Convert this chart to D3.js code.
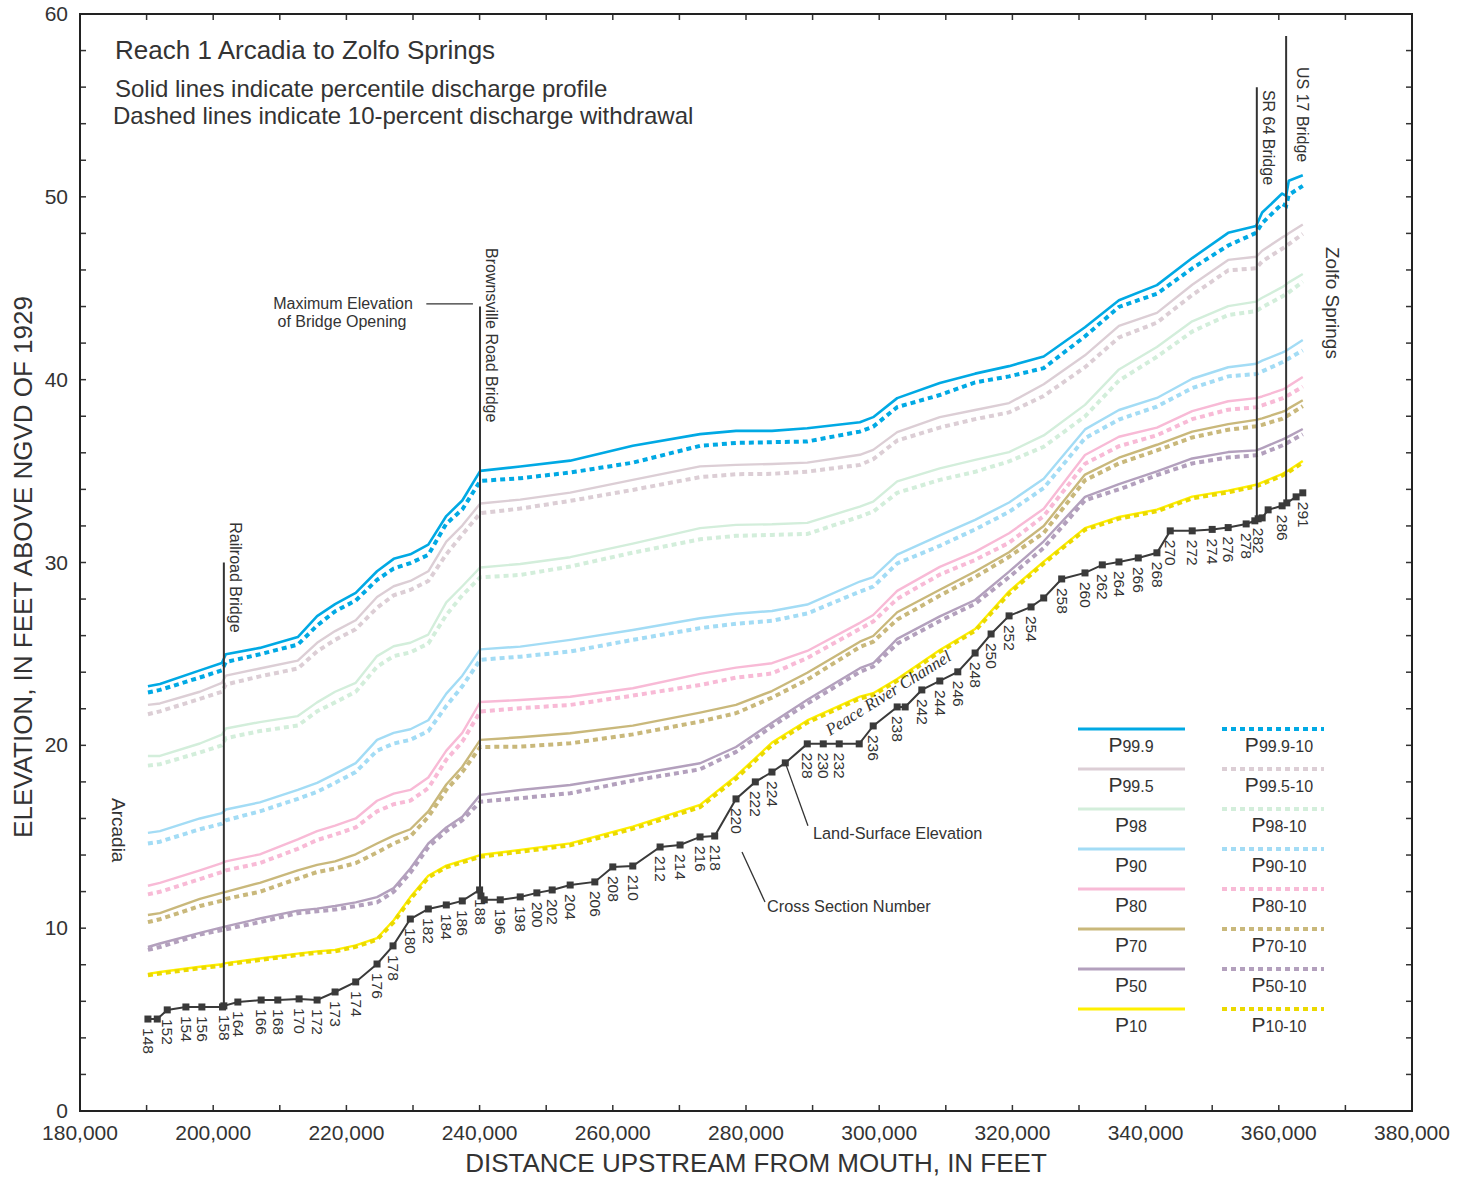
<!DOCTYPE html>
<html><head><meta charset="utf-8">
<script src="https://cdn.jsdelivr.net/npm/d3@7"></script>
<style>
body{margin:0;background:#fff}
svg{display:block}
text{font-family:"Liberation Sans",Arial,sans-serif;fill:#333}
</style>
</head><body>
<svg id="chart" width="1459" height="1178"></svg>
<script>
// ---------- DATA ----------
const lineDist = [190200,192000,198000,201300,201900,207000,212700,215600,218300,221400,224600,227100,229600,232300,235000,237400,240100,246100,253600,263000,273100,278500,283900,289200,297100,299100,302700,309100,314400,319500,324700,330900,336000,341700,347000,352400,356600,357500,360500,361100,361500,363600];

const p999  = [23.23,23.36,24.10,24.50,24.98,25.33,25.92,27.07,27.72,28.34,29.52,30.20,30.45,30.98,32.54,33.39,35.01,35.25,35.57,36.39,37.02,37.20,37.20,37.34,37.67,37.95,38.99,39.82,40.33,40.74,41.27,42.87,44.34,45.17,46.65,48.03,48.41,49.14,50.18,50.05,50.88,51.18];
const p999w = [22.89,23.03,23.71,24.10,24.56,24.98,25.51,26.55,27.33,27.92,29.05,29.67,29.97,30.42,32.12,32.90,34.46,34.61,34.92,35.46,36.38,36.54,36.58,36.62,37.16,37.43,38.50,39.16,39.85,40.18,40.63,42.37,43.98,44.70,46.09,47.34,48.03,48.56,49.62,49.51,50.11,50.60];
const p995  = [22.21,22.29,22.93,23.42,23.81,24.20,24.63,25.61,26.25,26.84,28.11,28.70,28.99,29.52,31.14,32.02,33.23,33.44,33.82,34.52,35.26,35.34,35.39,35.46,35.89,36.16,37.13,37.95,38.34,38.72,39.75,41.33,42.94,43.65,45.19,46.55,46.72,47.05,47.78,47.90,48.01,48.49];
const p995w = [21.70,21.86,22.54,22.93,23.33,23.77,24.20,25.14,25.77,26.35,27.52,28.21,28.50,28.99,30.45,31.53,32.70,32.95,33.37,33.97,34.67,34.83,34.85,34.97,35.34,35.65,36.67,37.38,37.84,38.21,39.11,40.68,42.31,43.12,44.63,45.98,46.09,46.47,47.16,47.30,47.41,47.97];
const p98   = [19.42,19.42,20.10,20.59,20.92,21.27,21.60,22.35,22.93,23.42,24.88,25.42,25.61,26.06,27.82,28.70,29.73,29.92,30.29,31.03,31.88,32.06,32.09,32.17,33.06,33.33,34.44,35.15,35.61,36.04,36.95,38.62,40.56,41.79,43.19,44.02,44.27,44.48,45.06,45.21,45.32,45.78];
const p98w  = [18.89,18.97,19.61,20.00,20.39,20.78,21.08,21.86,22.35,22.93,24.30,24.88,25.08,25.57,27.13,28.21,29.19,29.32,29.78,30.54,31.27,31.46,31.51,31.56,32.51,32.78,33.81,34.52,34.96,35.53,36.33,37.99,39.95,41.25,42.63,43.54,43.75,43.96,44.55,44.69,44.78,45.36];
const p90   = [15.21,15.31,16.00,16.29,16.49,16.88,17.56,17.95,18.44,19.03,20.30,20.68,20.88,21.37,22.83,23.81,25.25,25.40,25.77,26.31,26.95,27.20,27.35,27.70,28.96,29.20,30.43,31.48,32.33,33.28,34.58,37.28,38.34,39.00,40.05,40.68,40.87,41.04,41.48,41.58,41.68,42.17];
const p90w  = [14.63,14.73,15.41,15.71,15.90,16.39,17.07,17.46,17.95,18.54,19.71,20.10,20.30,20.78,22.15,23.23,24.68,24.85,25.13,25.77,26.41,26.65,26.81,27.21,28.41,28.68,29.95,30.91,31.81,32.77,34.07,36.80,37.82,38.53,39.54,40.18,40.31,40.45,40.95,41.06,41.16,41.60];
const p80   = [12.32,12.48,13.16,13.56,13.65,14.04,14.86,15.31,15.61,16.00,16.97,17.36,17.56,18.24,19.71,20.68,22.37,22.48,22.66,23.12,23.91,24.25,24.49,25.16,26.70,27.13,28.45,29.76,30.58,31.60,32.94,35.88,36.88,37.38,38.28,38.82,38.99,39.08,39.45,39.56,39.66,40.14];
const p80w  = [11.85,11.99,12.68,13.07,13.16,13.56,14.34,14.82,15.12,15.51,16.39,16.78,16.97,17.66,19.22,20.20,21.85,22.03,22.21,22.72,23.30,23.70,23.93,24.78,26.37,26.77,28.01,29.34,30.14,31.08,32.54,35.40,36.36,36.96,37.84,38.36,38.49,38.59,38.97,39.08,39.16,39.62];
const p70   = [10.72,10.82,11.60,11.93,11.99,12.48,13.16,13.46,13.65,14.04,14.63,15.06,15.41,16.39,17.86,18.83,20.30,20.44,20.66,21.08,21.79,22.21,22.97,23.97,25.67,25.98,27.28,28.51,29.51,30.56,32.00,34.81,35.73,36.44,37.16,37.57,37.80,37.88,38.24,38.32,38.43,38.87];
const p70w  = [10.33,10.49,11.21,11.50,11.60,11.99,12.71,13.07,13.26,13.56,14.14,14.63,15.02,16.09,17.56,18.54,19.91,19.93,20.11,20.60,21.30,21.76,22.61,23.59,25.38,25.67,26.88,28.19,29.20,30.31,31.62,34.50,35.42,36.13,36.84,37.26,37.45,37.53,37.86,37.97,38.07,38.55];
const p50   = [8.97,9.16,9.74,10.04,10.10,10.53,10.96,11.07,11.21,11.41,11.70,12.19,13.26,14.63,15.51,16.09,17.29,17.56,17.83,18.38,19.02,19.91,21.24,22.49,24.22,24.49,25.82,27.05,27.95,29.50,31.16,33.59,34.29,34.98,35.69,36.04,36.13,36.26,36.72,36.82,36.90,37.30];
const p50w  = [8.81,8.97,9.65,9.90,9.94,10.33,10.82,10.92,11.02,11.21,11.41,11.99,13.03,14.44,15.31,15.90,16.92,17.11,17.38,18.07,18.69,19.64,21.04,22.28,24.02,24.31,25.56,26.80,27.74,29.20,30.80,33.40,34.00,34.78,35.42,35.75,35.86,35.96,36.40,36.50,36.59,37.01];
const p10   = [7.50,7.60,7.89,8.03,8.09,8.34,8.61,8.73,8.81,9.06,9.45,10.43,11.70,12.87,13.42,13.69,14.00,14.28,14.64,15.55,16.74,18.31,20.15,21.36,22.66,22.85,23.63,25.21,26.36,28.42,30.05,31.88,32.49,32.89,33.60,33.93,34.25,34.38,34.84,34.96,35.04,35.55];
const p10w  = [7.42,7.52,7.81,7.95,8.01,8.26,8.53,8.65,8.73,8.98,9.37,10.33,11.58,12.77,13.33,13.60,13.90,14.18,14.53,15.43,16.62,18.18,20.02,21.24,22.56,22.75,23.53,25.11,26.26,28.30,29.95,31.79,32.40,32.80,33.51,33.84,34.16,34.29,34.75,34.87,34.95,35.46];

const seriesNames = ["99.9","99.5","98","90","80","70","50","10"];
const seriesSolid = [p999,p995,p98,p90,p80,p70,p50,p10];
const seriesWithdraw = [p999w,p995w,p98w,p90w,p80w,p70w,p50w,p10w];

// Land-surface elevation at cross sections
const landDist = [190200,191600,193100,195900,198300,201400,201600,203700,207200,209700,212900,215600,218300,221400,224600,227000,229600,232300,235000,237400,240000,240200,240700,243100,246100,248600,250900,253600,257300,260000,263000,267100,270100,273100,275300,278500,281400,283900,285900,289200,291600,294000,297000,299100,302700,303900,306400,309100,311800,314400,316800,319500,322800,324700,327400,330900,333500,336000,338900,341700,343700,347000,350000,352400,355100,356400,356900,357500,358400,360500,361200,362600,363600];
const landElev = [5.03,5.03,5.53,5.69,5.69,5.69,5.75,5.96,6.07,6.07,6.13,6.07,6.51,7.06,8.04,9.03,10.50,11.05,11.27,11.49,12.09,11.76,11.55,11.55,11.71,11.93,12.09,12.36,12.53,13.35,13.40,14.44,14.55,14.99,15.04,17.07,18.00,18.54,19.04,20.08,20.08,20.08,20.08,21.06,22.10,22.10,23.03,23.52,24.02,25.05,26.09,27.08,27.57,28.06,29.10,29.43,29.87,30.03,30.25,30.53,31.73,31.73,31.81,31.91,32.11,32.28,32.39,32.44,32.88,33.10,33.26,33.59,33.81];
const xsLabels = ["148","","152","154","156","","158","164","166","168","170","172","173","174","176","178","180","182","184","186","188","","","196","198","200","202","204","206","208","210","212","214","216","218","220","222","224","","228","230","232","","236","238","","242","244","246","248","250","252","254","","258","260","262","264","266","268","270","272","274","276","278","","282","","","286","","","291"];

// Bridges
const bridgeNames  = ["Railroad Bridge","Brownsville Road Bridge","SR 64 Bridge","US 17 Bridge"];
const bridgeDist   = [201600,240060,356700,361100];
const bridgeTop    = [30.0,44.0,56.0,58.8];
const bridgeBottom = [5.7,12.1,32.3,33.2];
const bridgeLabelTop = [32.2,47.2,55.85,57.1];

const xTickValues = [180000,200000,220000,240000,260000,280000,300000,320000,340000,360000,380000];
const yTickValues = [0,10,20,30,40,50,60];

// ---------- STYLE ----------
const colors = ["#00a9e4","#dcced5","#d3eedb","#a3dcf5","#f8bad6","#c9b87b","#b3a0bd","#fff000"];
const dashColors = ["#00a9e4","#dcced5","#d3eedb","#a3dcf5","#f8bad6","#c9b87b","#b3a0bd","#ebd900"];
const ink = "#333";

const L = 80, R = 1412, T = 14, B = 1111;
const svg = d3.select("#chart");

const x = d3.scaleLinear().domain([180000,380000]).range([L,R]);
const y = d3.scaleLinear().domain([0,60]).range([B,T]);

// frame + ticks
const axes = svg.append("g");
const minorX = d3.range(180000,380001,10000);
const minorY = d3.range(0,60.01,2);
axes.selectAll(".tb").data(minorX).join("line")
  .attr("x1",d=>x(d)).attr("x2",d=>x(d)).attr("y1",B).attr("y2",B-6)
  .attr("stroke",ink).attr("stroke-width",1.5);
axes.selectAll(".tt").data(minorX).join("line")
  .attr("x1",d=>x(d)).attr("x2",d=>x(d)).attr("y1",T).attr("y2",T+6)
  .attr("stroke",ink).attr("stroke-width",1.5);
axes.selectAll(".tl").data(minorY).join("line")
  .attr("x1",L).attr("x2",L+6).attr("y1",d=>y(d)).attr("y2",d=>y(d))
  .attr("stroke",ink).attr("stroke-width",1.5);
axes.selectAll(".tr").data(minorY).join("line")
  .attr("x1",R).attr("x2",R-6).attr("y1",d=>y(d)).attr("y2",d=>y(d))
  .attr("stroke",ink).attr("stroke-width",1.5);
axes.append("rect").attr("x",L).attr("y",T).attr("width",R-L).attr("height",B-T)
  .attr("fill","none").attr("stroke","#222").attr("stroke-width",2);

const fmt = d3.format(",");
axes.selectAll(".xl").data(xTickValues).join("text")
  .attr("x",d=>x(d)).attr("y",B+29).attr("text-anchor","middle")
  .attr("font-size",21).text(d=>fmt(d));
axes.selectAll(".yl").data(yTickValues).join("text")
  .attr("x",L-12).attr("y",d=>y(d)+7).attr("text-anchor","end")
  .attr("font-size",21).text(d=>d);

svg.append("text").attr("x",756).attr("y",1172).attr("text-anchor","middle")
  .attr("font-size",26).text("DISTANCE UPSTREAM FROM MOUTH, IN FEET");
svg.append("text").attr("transform","translate(32,567) rotate(-90)").attr("text-anchor","middle")
  .attr("font-size",26).text("ELEVATION, IN FEET ABOVE NGVD OF 1929");

// titles
svg.append("text").attr("x",115).attr("y",59).attr("font-size",26).text("Reach 1 Arcadia to Zolfo Springs");
svg.append("text").attr("x",115).attr("y",97).attr("font-size",24).text("Solid lines indicate percentile discharge profile");
svg.append("text").attr("x",113).attr("y",124).attr("font-size",24).text("Dashed lines indicate 10-percent discharge withdrawal");

// ---------- LINES ----------
const line = d3.line().x((d,i)=>x(lineDist[i])).y(d=>y(d));
const plot = svg.append("g");
seriesSolid.forEach((s,k)=>{
  plot.append("path").attr("d",line(s)).attr("fill","none")
    .attr("stroke",colors[k]).attr("stroke-width",k===0?2.6:2.4).attr("stroke-linejoin","round");
});
seriesWithdraw.forEach((s,k)=>{
  plot.append("path").attr("d",line(s)).attr("fill","none")
    .attr("stroke",dashColors[k]).attr("stroke-width",4).attr("stroke-dasharray","5,4");
});

// ---------- BRIDGES ----------
const br = svg.append("g");
bridgeNames.forEach((name,i)=>{
  br.append("line").attr("x1",x(bridgeDist[i])).attr("x2",x(bridgeDist[i]))
    .attr("y1",y(bridgeTop[i])).attr("y2",y(bridgeBottom[i]))
    .attr("stroke",ink).attr("stroke-width",2);
  const off = i===3 ? 11 : 6;
  br.append("text").attr("transform",`translate(${x(bridgeDist[i])+off},${y(bridgeLabelTop[i])}) rotate(90)`)
    .attr("font-size",16).text(name);
});
// Maximum elevation note
br.append("line").attr("x1",x(232000)).attr("x2",x(239000)).attr("y1",y(44.15)).attr("y2",y(44.15))
  .attr("stroke",ink).attr("stroke-width",1.3);
br.append("text").attr("x",343).attr("y",309).attr("text-anchor","middle").attr("font-size",16).text("Maximum Elevation");
br.append("text").attr("x",342).attr("y",327).attr("text-anchor","middle").attr("font-size",16).text("of Bridge Opening");

// ---------- LAND SURFACE ----------
const land = svg.append("g");
const landLine = d3.line().x((d,i)=>x(landDist[i])).y(d=>y(d));
land.append("path").attr("d",landLine(landElev)).attr("fill","none")
  .attr("stroke","#3a3a3a").attr("stroke-width",2);
land.selectAll("rect").data(landElev).join("rect")
  .attr("x",(d,i)=>x(landDist[i])-3.5).attr("y",d=>y(d)-3.5)
  .attr("width",7).attr("height",7).attr("fill","#3a3a3a");
land.selectAll("text.xs").data(xsLabels).join("text").attr("class","xs")
  .attr("transform",(d,i)=>`translate(${x(landDist[i])-5},${y(landElev[i])+9}) rotate(90)`)
  .attr("font-size",15.5).text(d=>d);

// annotations
const ann = svg.append("g");
ann.append("line").attr("x1",x(285900)).attr("y1",y(19.04)).attr("x2",x(289300)).attr("y2",y(15.6))
  .attr("stroke",ink).attr("stroke-width",1.3);
ann.append("text").attr("x",813).attr("y",839).attr("font-size",16.3).text("Land-Surface Elevation");
ann.append("line").attr("x1",742).attr("y1",852).attr("x2",765).attr("y2",902)
  .attr("stroke",ink).attr("stroke-width",1.3);
ann.append("text").attr("x",767).attr("y",912).attr("font-size",16.3).text("Cross Section Number");
ann.append("text").attr("transform",`translate(${x(301800)},${y(22.6)}) rotate(-32)`)
  .attr("text-anchor","middle").attr("font-style","italic")
  .attr("font-size",17).style("font-family","'Liberation Serif',serif").text("Peace River Channel");
ann.append("text").attr("transform","translate(112,798) rotate(90)").attr("font-size",19).text("Arcadia");
ann.append("text").attr("transform","translate(1326,247) rotate(90)").attr("font-size",19).text("Zolfo Springs");

// ---------- LEGEND ----------
const lg = svg.append("g");
seriesNames.forEach((n,k)=>{
  const yy = 729 + k*40;
  lg.append("line").attr("x1",1078).attr("x2",1185).attr("y1",yy).attr("y2",yy)
    .attr("stroke",colors[k]).attr("stroke-width",3);
  lg.append("line").attr("x1",1222).attr("x2",1324).attr("y1",yy).attr("y2",yy)
    .attr("stroke",dashColors[k]).attr("stroke-width",4).attr("stroke-dasharray","5,4");
  const t1 = lg.append("text").attr("x",1131).attr("y",yy+23).attr("text-anchor","middle");
  t1.append("tspan").attr("font-size",21).text("P");
  t1.append("tspan").attr("font-size",16).text(n);
  const t2 = lg.append("text").attr("x",1279).attr("y",yy+23).attr("text-anchor","middle");
  t2.append("tspan").attr("font-size",21).text("P");
  t2.append("tspan").attr("font-size",16).text(n+"-10");
});
</script>
</body></html>
